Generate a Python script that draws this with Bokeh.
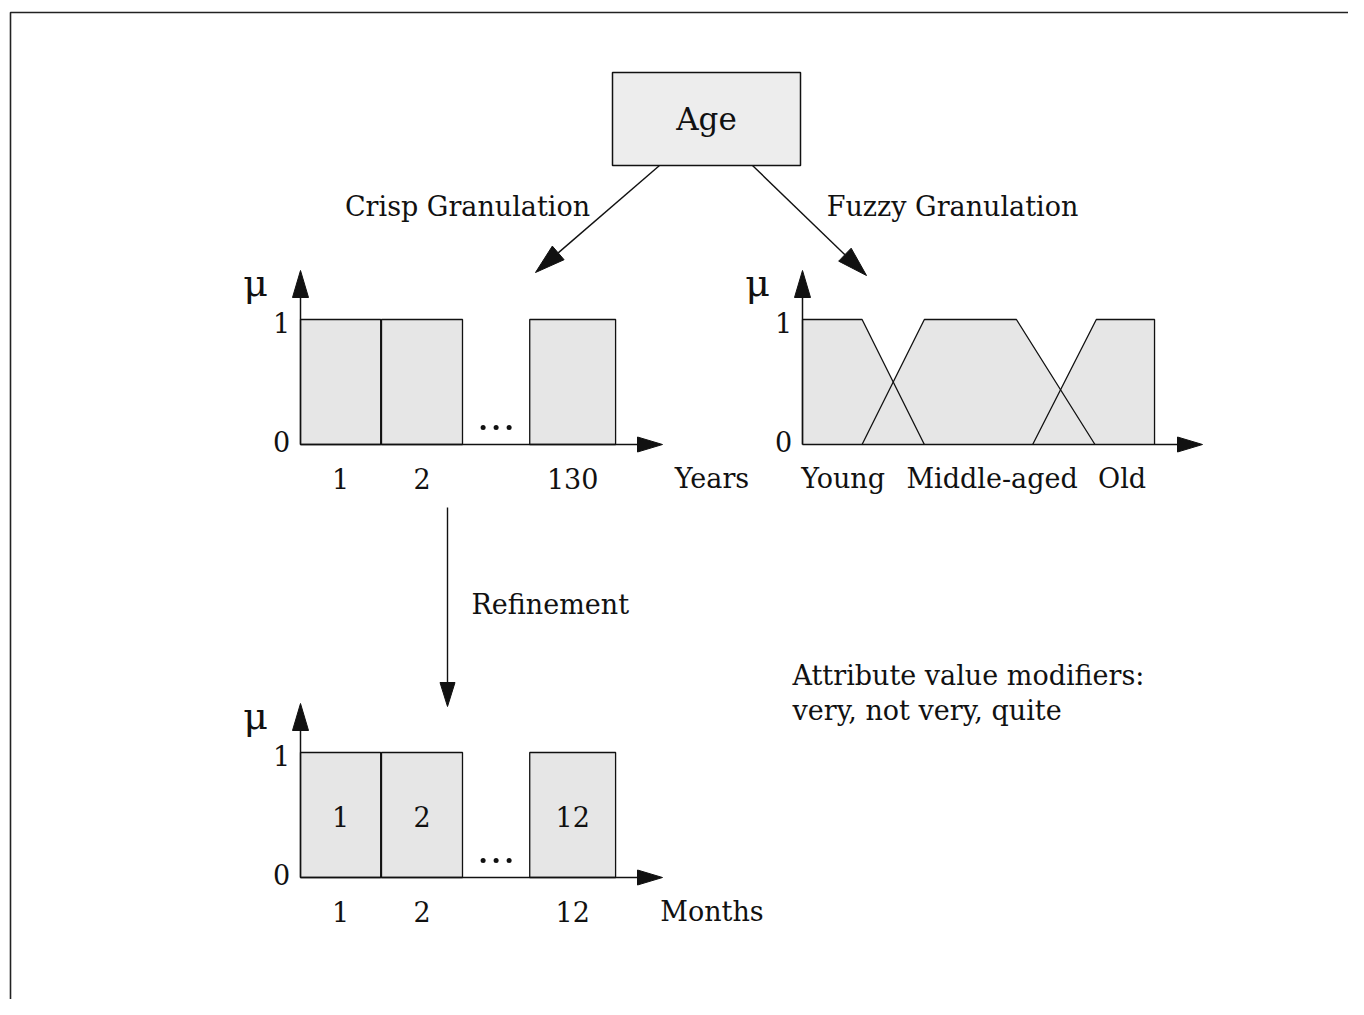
import numpy as np
from bokeh.plotting import figure
from bokeh.models import Range1d
from bokeh.core.properties import value
from bokeh.embed import file_html
from bokeh.resources import INLINE

# ---------------- data ----------------
root_label = "Age"
branch_labels = ["Crisp Granulation", "Fuzzy Granulation", "Refinement"]

year_labels = ["1", "2", "130"]
year_left = [0.0, 1.0, 2.83]
year_right = [0.99, 2.0, 3.89]
year_mu = [1, 1, 1]
year_unit = "Years"

month_labels = ["1", "2", "12"]
month_left = [0.0, 1.0, 2.83]
month_right = [0.99, 2.0, 3.89]
month_mu = [1, 1, 1]
month_unit = "Months"

fuzzy_names = ["Young", "Middle-aged", "Old"]
young_age = [0, 0, 22, 45]
young_mu = [0, 1, 1, 0]
middle_age = [22, 45, 79, 108]
middle_mu = [0, 1, 1, 0]
old_age = [85, 108.5, 130, 130]
old_mu = [0, 1, 1, 0]
fuzzy_label_age = [15, 70, 118]

mu_ticks = ["0", "1"]
modifier_lines = ["Attribute value modifiers:", "very, not very, quite"]

# ---------------- canvas ----------------
W, H = 1348, 999
p = figure(width=W, height=H, x_range=Range1d(0, W), y_range=Range1d(H, 0),
           output_backend="svg", toolbar_location=None,
           x_axis_location=None, y_axis_location=None, min_border=0)
p.grid.visible = False
p.outline_line_color = None
p.background_fill_color = "white"

FONT = value("DejaVu Serif")
INK = "#111111"
FILL = "#e6e6e6"


def txt(x, y, s, size="27px", align="center"):
    p.text(x=[x], y=[y], text=[s], text_font=FONT, text_font_size=size,
           text_align=align, text_baseline="middle", text_color=INK)


def arrow(x0, y0, x1, y1, L=26, Wd=16, lw=1.4):
    dx, dy = x1 - x0, y1 - y0
    n = np.hypot(dx, dy)
    ux, uy = dx / n, dy / n
    bx, by = x1 - L * ux, y1 - L * uy
    px, py = -uy, ux
    p.line([x0, bx], [y0, by], line_color=INK, line_width=lw)
    p.patch([x1, bx + Wd / 2 * px, bx - Wd / 2 * px],
            [y1, by + Wd / 2 * py, by - Wd / 2 * py],
            fill_color=INK, line_color=INK, line_width=1)


# frame
p.line([10, 10, W], [H, 12, 12], line_color="#222222", line_width=1.6)

# root box
p.quad(left=612, right=800, top=72, bottom=165, fill_color="#ededed",
       line_color=INK, line_width=1.5)
txt(706, 118, root_label, size="31px")

# branches
arrow(659, 165, 535, 272, L=30, Wd=18)
arrow(752, 165, 866, 275, L=30, Wd=18)
txt(467, 206, branch_labels[0])
txt(952, 206, branch_labels[1])

SY = 125  # pixels per unit membership


def axes(ox, oy, xlen):
    arrow(ox, oy, ox, oy - 174, L=27, Wd=16, lw=1.5)
    arrow(ox, oy, ox + xlen, oy, L=25, Wd=15, lw=1.5)
    txt(ox - 19, oy - SY + 3, mu_ticks[1])
    txt(ox - 19, oy - 3, mu_ticks[0])
    txt(ox - 45, oy - 162, "\u03bc", size="38px")


def crisp_chart(ox, oy, labels, left, right, mu, unit, inside):
    sx = 81
    X = lambda v: ox + np.asarray(v, dtype=float) * sx
    Y = lambda v: oy - np.asarray(v, dtype=float) * SY
    p.quad(left=X(left), right=X(right), bottom=float(Y(0)), top=Y(mu),
           fill_color=FILL, line_color=INK, line_width=1.3)
    axes(ox, oy, 362)
    centers = (X(left) + X(right)) / 2
    for c, lab in zip(centers, labels):
        txt(c, oy + 34, lab)
        if inside:
            txt(c, oy - SY / 2 + 1, lab)
    # ellipsis dots between 2nd and last bar
    dx = (X(left[2]) + X(right[1])) / 2
    p.scatter(x=[dx - 13, dx, dx + 13], y=[oy - 17] * 3, size=5,
              fill_color=INK, line_color=None)
    txt(ox + 5.08 * sx, oy + 34, unit)


crisp_chart(300, 444, year_labels, year_left, year_right, year_mu, year_unit, False)
crisp_chart(300, 877, month_labels, month_left, month_right, month_mu, month_unit, True)

# fuzzy chart
fox, foy, fsx = 802, 444, 2.708
FX = lambda v: fox + np.asarray(v, dtype=float) * fsx
FY = lambda v: foy - np.asarray(v, dtype=float) * SY
sets = [(young_age, young_mu), (middle_age, middle_mu), (old_age, old_mu)]
p.patches(xs=[list(FX(a)) for a, m in sets], ys=[list(FY(m)) for a, m in sets],
          fill_color=FILL, line_color=None)
p.multi_line(xs=[list(FX(a)) for a, m in sets], ys=[list(FY(m)) for a, m in sets],
             line_color=INK, line_width=1.3)
axes(fox, foy, 400)
for a, lab in zip(fuzzy_label_age, fuzzy_names):
    txt(float(FX(a)), foy + 34, lab)

# refinement
arrow(447, 507, 447, 706, L=24, Wd=15)
txt(471, 604, branch_labels[2], align="left")

# modifiers
txt(792, 675, modifier_lines[0], align="left")
txt(792, 710, modifier_lines[1], align="left")

open("out.html", "w").write(file_html(p, INLINE))
